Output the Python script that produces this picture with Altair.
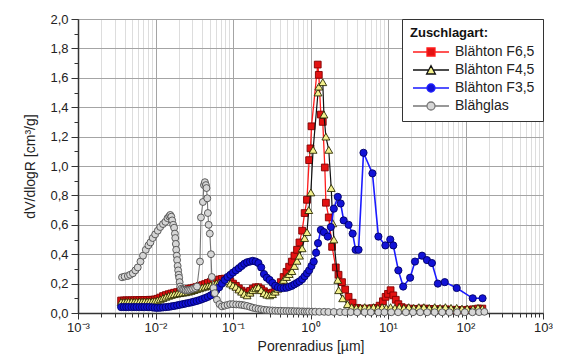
import altair as alt
import pandas as pd

# ---------------- data ----------------
series_names = ["Blähton F6,5", "Blähton F4,5", "Blähton F3,5", "Blähglas"]

r_f65 = [0.0036, 0.0039, 0.0042, 0.0045, 0.0049, 0.0053, 0.0057, 0.0062, 0.0067, 0.0072, 0.0078, 0.0084, 0.0091, 0.0098,
         0.0106, 0.0115, 0.0125, 0.0136, 0.0148, 0.016, 0.0174, 0.019, 0.0206, 0.0224, 0.0244, 0.0265, 0.0288, 0.0313,
         0.034, 0.037, 0.0402, 0.0437, 0.0475, 0.0516, 0.0561, 0.061, 0.0663, 0.072, 0.0783, 0.085, 0.0924,
         0.1, 0.109, 0.119, 0.129, 0.14, 0.152, 0.166, 0.18, 0.196, 0.213, 0.231, 0.251, 0.273, 0.297, 0.323, 0.351,
         0.381, 0.414, 0.45, 0.49, 0.53, 0.575, 0.62, 0.67, 0.72, 0.78, 0.84, 0.9, 0.96,
         1.0, 1.03, 1.24, 1.28, 1.36, 1.44, 1.53, 1.58, 1.72, 1.9, 2.12, 2.3, 2.55, 2.8, 3.1, 3.5, 4.0, 4.5, 5.0, 5.6,
         6.3, 7.0, 7.8, 8.6, 9.3,
         10.0, 10.8, 11.7, 12.6, 13.6, 15.0, 17.0, 19.5, 22.5, 26.0, 30.0, 35.0, 41.0, 48.0, 56.0, 66.0, 78.0, 92.0,
         108.0, 125.0, 145.0, 165.0]
v_f65 = [0.085, 0.085, 0.086, 0.086, 0.086, 0.087, 0.087, 0.088, 0.088, 0.089, 0.089, 0.09, 0.09, 0.092,
         0.097, 0.105, 0.115, 0.122, 0.128, 0.133, 0.138, 0.142, 0.147, 0.152, 0.158, 0.163, 0.168, 0.172,
         0.178, 0.184, 0.19, 0.197, 0.205, 0.212, 0.218, 0.223, 0.228, 0.232, 0.234, 0.228, 0.215,
         0.2, 0.185, 0.168, 0.152, 0.14, 0.135, 0.15, 0.165, 0.175, 0.175, 0.163, 0.148, 0.135, 0.13, 0.138, 0.155,
         0.18, 0.21, 0.245, 0.28, 0.315, 0.35, 0.39, 0.43, 0.48, 0.56, 0.68, 0.77, 1.04,
         1.12, 1.27, 1.69, 1.62, 1.35, 1.30, 0.99, 0.75, 0.65, 0.45, 0.31, 0.26, 0.21, 0.16, 0.11, 0.07, 0.035, 0.03,
         0.028, 0.03, 0.032, 0.035, 0.05, 0.08, 0.11,
         0.13, 0.155, 0.12, 0.09, 0.06, 0.04, 0.032, 0.03, 0.028, 0.03, 0.03, 0.028, 0.026, 0.025, 0.025, 0.022,
         0.02, 0.02, 0.022, 0.025, 0.03, 0.03]

r_f45 = [0.0036, 0.0039, 0.0042, 0.0045, 0.0049, 0.0053, 0.0057, 0.0062, 0.0067, 0.0072, 0.0078, 0.0084, 0.0091, 0.0098,
         0.0106, 0.0115, 0.0125, 0.0136, 0.0148, 0.016, 0.0174, 0.019, 0.0206, 0.0224, 0.0244, 0.0265, 0.0288, 0.0313,
         0.034, 0.037, 0.0402, 0.0437, 0.0475, 0.0516, 0.0561, 0.061, 0.0663, 0.072, 0.0783, 0.085, 0.0924,
         0.1, 0.109, 0.119, 0.129, 0.14, 0.152, 0.166, 0.18, 0.196, 0.213, 0.231, 0.251, 0.273, 0.297, 0.323, 0.351,
         0.381, 0.414, 0.45, 0.49, 0.53, 0.575, 0.62, 0.67, 0.72, 0.78, 0.84, 0.9, 0.95,
         1.01, 1.08, 1.25, 1.28, 1.44, 1.49, 1.58, 1.72, 1.85, 1.94, 2.0, 2.25, 2.31, 2.6, 3.0, 3.4, 3.9, 4.4, 5.0,
         5.7, 6.5, 7.4, 8.4, 9.5,
         10.8, 12.3, 14.0, 16.0, 18.5, 21.5, 25.0, 29.0, 34.0, 40.0, 47.0, 55.0, 65.0, 77.0, 90.0, 105.0, 125.0,
         145.0, 165.0]
v_f45 = [0.075, 0.075, 0.076, 0.076, 0.077, 0.077, 0.077, 0.078, 0.078, 0.078, 0.079, 0.079, 0.08, 0.082,
         0.086, 0.093, 0.102, 0.11, 0.117, 0.123, 0.128, 0.132, 0.135, 0.138, 0.141, 0.145, 0.15, 0.156,
         0.162, 0.168, 0.174, 0.179, 0.184, 0.19, 0.196, 0.202, 0.208, 0.215, 0.222, 0.215, 0.2,
         0.188, 0.178, 0.16, 0.145, 0.13, 0.12, 0.138, 0.155, 0.168, 0.175, 0.155, 0.135, 0.125, 0.12, 0.128, 0.145,
         0.165, 0.2, 0.225, 0.245, 0.265, 0.285, 0.32, 0.355, 0.39, 0.44, 0.51, 0.55, 0.7,
         0.82, 1.11, 1.50, 1.54, 1.57, 1.35, 1.20, 1.11, 0.85, 0.61, 0.50, 0.225, 0.155, 0.1, 0.06, 0.04, 0.035,
         0.035, 0.04, 0.035, 0.04, 0.035, 0.04, 0.035,
         0.04, 0.035, 0.04, 0.035, 0.04, 0.035, 0.04, 0.04, 0.035, 0.04, 0.035, 0.04, 0.035, 0.035, 0.03, 0.03,
         0.03, 0.035, 0.03]

r_f35 = [0.0036, 0.0039, 0.0042, 0.0045, 0.0049, 0.0053, 0.0057, 0.0062, 0.0067, 0.0072, 0.0078, 0.0084, 0.0091, 0.0098,
         0.0106, 0.0115, 0.0125, 0.0136, 0.0148, 0.016, 0.0174, 0.019, 0.0206, 0.0224, 0.0244, 0.0265, 0.0288, 0.0313,
         0.034, 0.037, 0.0402, 0.0437, 0.0475, 0.0516, 0.0561, 0.061, 0.0663, 0.072, 0.0783, 0.085, 0.0924,
         0.1, 0.109, 0.119, 0.129, 0.14, 0.152, 0.166, 0.18, 0.196, 0.213, 0.231, 0.251, 0.273, 0.297, 0.323, 0.351,
         0.381, 0.414, 0.45, 0.49, 0.53, 0.575, 0.62, 0.67, 0.72, 0.78, 0.84, 0.9, 0.96,
         1.03, 1.1, 1.18, 1.25, 1.36, 1.49, 1.67, 1.83, 2.0, 2.25, 2.45, 2.68, 3.1, 3.5, 3.82, 4.17, 4.83, 6.3,
         7.52, 9.25, 10.7, 11.7, 13.6, 15.7, 19.3, 22.3, 27.5, 31.8, 36.9, 44.0, 54.0, 77.0, 124.0, 166.0]
v_f35 = [0.04, 0.04, 0.04, 0.04, 0.04, 0.04, 0.04, 0.04, 0.04, 0.04, 0.04, 0.04, 0.038, 0.036,
         0.035, 0.036, 0.038, 0.04, 0.042, 0.045, 0.048, 0.052, 0.056, 0.06, 0.064, 0.068, 0.072, 0.077,
         0.082, 0.088, 0.095, 0.102, 0.11, 0.12, 0.135, 0.155, 0.175, 0.2, 0.225, 0.245, 0.26,
         0.275, 0.29, 0.305, 0.32, 0.335, 0.345, 0.35, 0.355, 0.35, 0.34, 0.31, 0.265, 0.24, 0.225, 0.205, 0.185,
         0.175, 0.17, 0.17, 0.172, 0.178, 0.185, 0.195, 0.205, 0.215, 0.23, 0.25, 0.27, 0.29,
         0.32, 0.35, 0.41, 0.475, 0.565, 0.55, 0.52, 0.585, 0.71, 0.79, 0.745, 0.63, 0.6, 0.54, 0.43, 0.43, 1.09,
         0.95, 0.52, 0.46, 0.50, 0.46, 0.29, 0.18, 0.24, 0.35, 0.39, 0.36, 0.34, 0.20, 0.21, 0.17, 0.10, 0.10]

r_gl = [0.0037, 0.004, 0.0044, 0.0047, 0.0051, 0.0055, 0.0059, 0.0064, 0.0069, 0.0075,
        0.0081, 0.0086, 0.0092, 0.0099, 0.0107, 0.0115, 0.0125, 0.0134, 0.0143, 0.015,
        0.0155, 0.016, 0.0164, 0.0169, 0.0174, 0.0178, 0.018, 0.0183, 0.0185, 0.0188,
        0.019, 0.0193, 0.0196, 0.0199, 0.0202, 0.0205, 0.0208, 0.0215, 0.0225, 0.0234,
        0.0245, 0.0258, 0.0272, 0.0288, 0.0305, 0.0325, 0.0343, 0.0375, 0.0386, 0.0409,
        0.0422, 0.0434, 0.0447, 0.0455, 0.0466, 0.0474, 0.0485, 0.0502, 0.052, 0.0533,
        0.056, 0.0582, 0.062, 0.067, 0.072, 0.078, 0.085, 0.092, 0.1, 0.11,
        0.12, 0.13, 0.14, 0.152, 0.166, 0.18, 0.196, 0.213, 0.231, 0.251,
        0.273, 0.297, 0.323, 0.351, 0.381, 0.414, 0.45, 0.49, 0.53, 0.575,
        0.62, 0.67, 0.72, 0.78, 0.84, 0.9, 0.96, 1.05, 1.15, 1.3,
        1.5, 1.7, 2.0, 2.4, 2.8, 3.3, 4.0, 5.0, 6.0, 7.5,
        9.0, 11.0, 13.5, 17.0, 21.0, 26.0, 32.0, 40.0, 50.0, 62.0,
        78.0, 98.0, 123.0, 150.0, 175.0]
v_gl = [0.243, 0.248, 0.252, 0.26, 0.27, 0.29, 0.31, 0.35, 0.39, 0.43,
        0.46, 0.48, 0.51, 0.535, 0.56, 0.585, 0.605, 0.62, 0.645, 0.657,
        0.667, 0.655, 0.63, 0.6, 0.58, 0.54, 0.51, 0.47, 0.43, 0.39,
        0.36, 0.32, 0.29, 0.26, 0.24, 0.21, 0.18, 0.165, 0.16, 0.158,
        0.155, 0.155, 0.157, 0.16, 0.165, 0.17, 0.18, 0.35, 0.65, 0.755,
        0.87, 0.89, 0.87, 0.85, 0.78, 0.68, 0.6, 0.54, 0.4, 0.245,
        0.17, 0.135, 0.09, 0.06, 0.045, 0.05, 0.055, 0.06, 0.06, 0.058,
        0.057, 0.055, 0.052, 0.048, 0.042, 0.036, 0.032, 0.028, 0.025, 0.022,
        0.02, 0.018, 0.017, 0.016, 0.015, 0.015, 0.014, 0.014, 0.013, 0.013,
        0.012, 0.012, 0.011, 0.011, 0.01, 0.01, 0.01, 0.009, 0.009, 0.008,
        0.008, 0.007, 0.007, 0.006, 0.006, 0.006, 0.005, 0.005, 0.005, 0.005,
        0.005, 0.005, 0.005, 0.005, 0.005, 0.005, 0.005, 0.005, 0.005, 0.005,
        0.005, 0.005, 0.005, 0.006, 0.008]

x_major = [0.001, 0.01, 0.1, 1, 10, 100, 1000]
x_minor = [m * 10.0 ** e for e in range(-3, 3) for m in range(2, 10)]
y_major = [0.0, 0.2, 0.4, 0.6, 0.8, 1.0, 1.2, 1.4, 1.6, 1.8, 2.0]
y_minor = [0.1, 0.3, 0.5, 0.7, 0.9, 1.1, 1.3, 1.5, 1.7, 1.9]

# ---------------- styles ----------------
line_colors = ["#ff1c1c", "#111111", "#1a1aff", "#777777"]
fill_colors = ["#e31212", "#f3f08c", "#1212d6", "#d6d6d6"]
edge_colors = ["#800000", "#2a2a00", "#000066", "#4d4d4d"]
point_shapes = ["square", "triangle-up", "circle", "circle"]
point_sizes = [46, 62, 52, 48]
line_widths = [1.3, 1.2, 1.6, 1.1]
legend_paths = [
    "M-1,0H2.5M4.5,0H8M2.5,-1H4.5V1H2.5Z",
    "M-1,0H3M4,0H8M2.4,1H4.6L3.5,-1.1Z",
    "M-1,0H2.5M4.5,0H8M2.5,0A1,1 0 1,1 4.5,0A1,1 0 1,1 2.5,0Z",
    "M-1,0H2.5M4.5,0H8M2.5,0A1,1 0 1,1 4.5,0A1,1 0 1,1 2.5,0Z",
]

FONT = "Liberation Sans"
xscale = alt.Scale(type="log", domain=[0.001, 1000], nice=False)
yscale = alt.Scale(domain=[0, 2], nice=False, zero=True)

x_axis_major = alt.Axis(
    values=x_major, orient="bottom", grid=True, gridColor="#a4a4a4", gridWidth=1,
    labelExpr="'10' + ['⁻³','⁻²','⁻¹','⁰','¹','²','³'][round(log(datum.value)/LN10)+3]",
    tickSize=6, tickColor="#333333", domainColor="#333333", domainWidth=1.5,
    labelFontSize=13, titleFontSize=14, labelPadding=2, titlePadding=5, labelFlush=False,
)
y_axis_major = alt.Axis(
    values=y_major, orient="left", grid=True, gridColor="#a4a4a4", gridWidth=1,
    labelExpr="replace(format(datum.value, '.1f'), '.', ',')",
    tickSize=7, tickColor="#333333", domainColor="#333333", domainWidth=1.5,
    labelFontSize=13, titleFontSize=14, labelPadding=3, titlePadding=12,
)
x_axis_minor = alt.Axis(values=x_minor, orient="bottom", grid=True, gridColor="#dddddd",
                        labels=False, domain=False, tickSize=4, tickColor="#333333")
y_axis_minor = alt.Axis(values=y_minor, orient="left", grid=False,
                        labels=False, domain=False, tickSize=4, tickColor="#333333")

minor_x = alt.Chart(pd.DataFrame({"r": x_minor})).mark_rule(opacity=0).encode(
    x=alt.X("r:Q", scale=xscale, axis=x_axis_minor, title=None)
)
minor_y = alt.Chart(pd.DataFrame({"v": y_minor})).mark_rule(opacity=0).encode(
    y=alt.Y("v:Q", scale=yscale, axis=y_axis_minor, title=None)
)

series_data = [(r_f65, v_f65), (r_f45, v_f45), (r_f35, v_f35), (r_gl, v_gl)]
layers = [minor_x, minor_y]
for i, (rr, vv) in enumerate(series_data):
    df = pd.DataFrame({"r": rr, "v": vv})
    first = i == 0
    xenc = alt.X("r:Q", scale=xscale, axis=x_axis_major if first else None, title="Porenradius [µm]")
    yenc = alt.Y("v:Q", scale=yscale, axis=y_axis_major if first else None, title="dV/dlogR [cm³/g]")
    line = alt.Chart(df).mark_line(color=line_colors[i], strokeWidth=line_widths[i]).encode(x=xenc, y=yenc)
    pts = alt.Chart(df).mark_point(
        shape=point_shapes[i], filled=True, fill=fill_colors[i], stroke=edge_colors[i],
        strokeWidth=0.9, size=point_sizes[i], opacity=1,
    ).encode(
        x=alt.X("r:Q", scale=xscale, axis=None),
        y=alt.Y("v:Q", scale=yscale, axis=None),
    )
    layers += [line, pts]

leg = alt.Legend(
    title="Zuschlagart:", orient="top-right", offset=0, padding=8,
    strokeColor="#333333", fillColor="white",
    titleFont=FONT, titleFontSize=13, titleFontWeight="bold", titleColor="#111111", titlePadding=5,
    labelFont=FONT, labelFontSize=14, labelColor="#222222", labelOffset=31,
    symbolSize=64, symbolStrokeWidth=1.3, rowPadding=4,
)
legend_layer = alt.Chart(pd.DataFrame({"series": series_names})).mark_point(
    filled=True, size=64, strokeWidth=1.3, opacity=1
).encode(
    shape=alt.Shape("series:N", scale=alt.Scale(domain=series_names, range=legend_paths), legend=leg),
    fill=alt.Fill("series:N", scale=alt.Scale(domain=series_names, range=fill_colors), legend=leg),
    stroke=alt.Stroke("series:N", scale=alt.Scale(domain=series_names, range=line_colors), legend=leg),
).transform_filter("false")
layers.append(legend_layer)

chart = alt.layer(*layers).resolve_axis(
    x="independent", y="independent"
).properties(
    width=465, height=294,
    padding={"left": 70, "top": 11, "right": 10, "bottom": 41},
    autosize=alt.AutoSizeParams(type="none"),
).configure_view(
    stroke="#333333", strokeWidth=1
).configure_axis(
    labelFont=FONT, titleFont=FONT, labelColor="#222222", titleColor="#222222", titleFontWeight="normal"
)

chart.save("out.html", embed_options={"renderer": "svg", "actions": False})
